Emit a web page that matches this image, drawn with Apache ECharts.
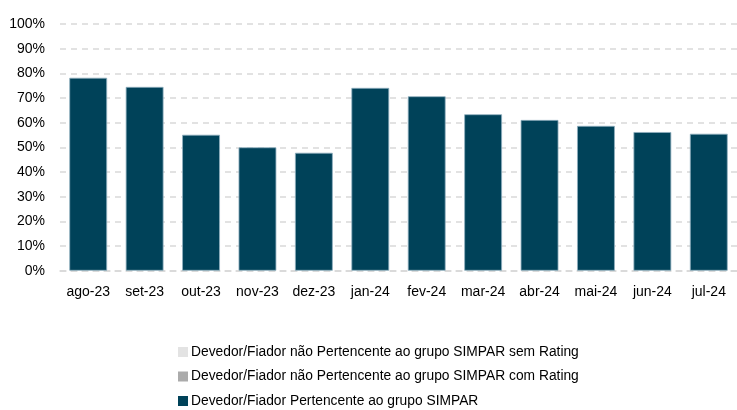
<!DOCTYPE html>
<html lang="pt">
<head>
  <meta charset="UTF-8">
  <title>Devedor/Fiador SIMPAR</title>
  <script src="https://cdn.jsdelivr.net/npm/echarts@6/dist/echarts.min.js"></script>
  <style>
    html, body { margin: 0; padding: 0; background: #ffffff; }
    #chart { width: 737px; height: 410px; }
  </style>
</head>
<body>
  <div id="chart"></div>
  <script>
    // Categories and series values (in %)
    var months = ['ago-23', 'set-23', 'out-23', 'nov-23', 'dez-23', 'jan-24',
                  'fev-24', 'mar-24', 'abr-24', 'mai-24', 'jun-24', 'jul-24'];
    var semRating = [0, 0, 0, 0, 0, 0, 0, 0, 0, 0, 0, 0];
    var comRating = [0, 0, 0, 0, 0, 0, 0, 0, 0, 0, 0, 0];
    var grupoSimpar = [78.2, 74.5, 55.1, 50.0, 47.8, 74.1, 70.7, 63.4, 61.1, 58.7, 56.2, 55.5];

    var font = 'Liberation Sans, Arial, sans-serif';
    var chart = echarts.init(document.getElementById('chart'));

    chart.setOption({
      animation: false,
      textStyle: { fontFamily: font },
      grid: { left: 60, top: 24, width: 682, height: 246.7 },
      legend: {
        orient: 'vertical',
        left: 178,
        top: 345,
        height: 90,
        padding: 0,
        itemWidth: 10,
        itemHeight: 10,
        itemGap: 10.5,
        icon: 'rect',
        itemStyle: { borderWidth: 0 },
        textStyle: { fontFamily: font, fontSize: 13.8, color: '#000000', padding: [0, 0, 0, -2] },
        data: [
          'Devedor/Fiador não Pertencente ao grupo SIMPAR sem Rating',
          'Devedor/Fiador não Pertencente ao grupo SIMPAR com Rating',
          'Devedor/Fiador Pertencente ao grupo SIMPAR'
        ]
      },
      xAxis: {
        type: 'category',
        data: months,
        axisTick: { show: false },
        axisLine: { lineStyle: { color: '#d9d9d9', type: [6, 5], width: 1.5 } },
        axisLabel: { color: '#000000', fontSize: 14, margin: 14, fontFamily: font, interval: 0 }
      },
      yAxis: {
        type: 'value',
        min: 0,
        max: 100,
        interval: 10,
        axisLine: { show: false },
        axisTick: { show: false },
        axisLabel: {
          color: '#000000', fontSize: 14, margin: 15, fontFamily: font,
          formatter: function (v) { return v + '%'; }
        },
        splitLine: { lineStyle: { color: '#d9d9d9', type: [6, 5], width: 1.5 } }
      },
      series: [
        {
          name: 'Devedor/Fiador não Pertencente ao grupo SIMPAR sem Rating',
          type: 'bar',
          stack: 'total',
          barWidth: '67%',
          itemStyle: { color: '#e3e3e3' },
          data: semRating
        },
        {
          name: 'Devedor/Fiador não Pertencente ao grupo SIMPAR com Rating',
          type: 'bar',
          stack: 'total',
          itemStyle: { color: '#ababab' },
          data: comRating
        },
        {
          name: 'Devedor/Fiador Pertencente ao grupo SIMPAR',
          type: 'bar',
          stack: 'total',
          itemStyle: { color: '#004259', borderColor: '#8fb0bf', borderWidth: 0.8 },
          data: grupoSimpar
        }
      ]
    });
  </script>
</body>
</html>
